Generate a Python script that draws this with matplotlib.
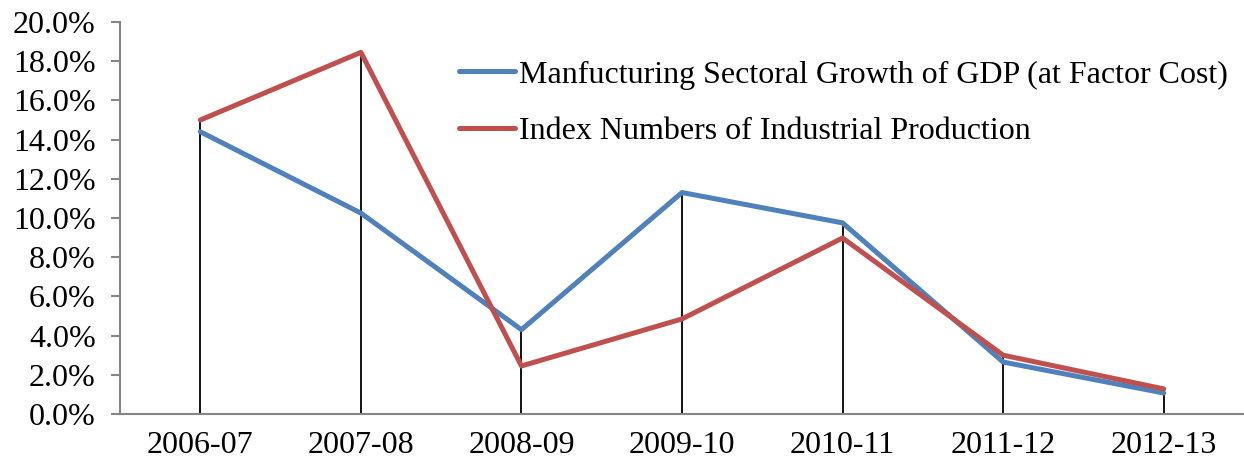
import matplotlib
matplotlib.use('Agg')
import matplotlib.pyplot as plt
import numpy as np

# data (percent)
years = ['2006-07', '2007-08', '2008-09', '2009-10', '2010-11', '2011-12', '2012-13']
manuf_gdp = [14.4, 10.25, 4.3, 11.3, 9.75, 2.65, 1.07]
iip = [15.0, 18.45, 2.45, 4.85, 8.98, 3.0, 1.28]
yticks = [0, 2, 4, 6, 8, 10, 12, 14, 16, 18, 20]

plt.rcParams['font.family'] = ['Liberation Serif', 'DejaVu Serif']

fig = plt.figure(figsize=(12.44, 4.68), dpi=100)
ax = fig.add_axes([0.0965, 0.1154, 0.9035, 0.8376])

x = np.arange(len(years))
top = np.maximum(manuf_gdp, iip)
ax.vlines(x, 0, top, color='black', lw=1.3, zorder=1)

ax.plot(x, manuf_gdp, color='#4F81BD', lw=3.6, solid_capstyle='round',
        label='Manfucturing Sectoral Growth of GDP (at Factor Cost)', zorder=3)
ax.plot(x, iip, color='#C0504D', lw=3.6, solid_capstyle='round',
        label='Index Numbers of Industrial Production', zorder=3)

ax.set_xlim(-0.5, len(years) - 0.5)
ax.set_ylim(0, 20)
ax.set_yticks(yticks)
ax.set_yticklabels([f'{t:.1f}%' for t in yticks])
ax.set_xticks(x)
ax.set_xticklabels(years)

for s in ['top', 'right']:
    ax.spines[s].set_visible(False)
for s in ['left', 'bottom']:
    ax.spines[s].set_color('#868686')
    ax.spines[s].set_linewidth(1.5)
ax.tick_params(axis='y', length=6.5, width=1.5, color='#868686', labelsize=23, pad=11)
ax.tick_params(axis='x', length=0, labelsize=23, pad=12)

ax.legend(loc='upper left', bbox_to_anchor=(0.29, 0.935), frameon=False,
          fontsize=23, handlelength=1.75, handletextpad=0.15, labelspacing=0.85,
          borderaxespad=0)

fig.savefig('out.png', dpi=100)
